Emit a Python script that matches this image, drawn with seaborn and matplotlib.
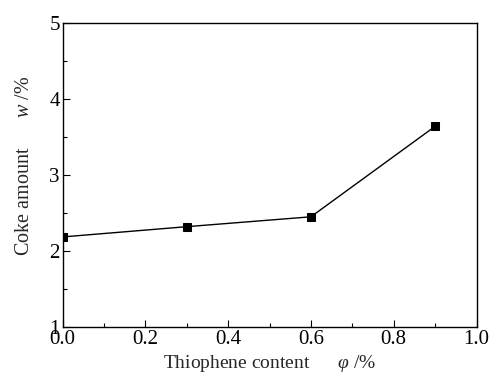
import matplotlib
matplotlib.use("Agg")
import matplotlib.pyplot as plt
import seaborn as sns
import pandas as pd

thiophene = [0.0, 0.3, 0.6, 0.9]
coke = [2.185, 2.32, 2.45, 3.64]

sns.set_theme(style="ticks")
plt.rcParams["font.family"] = ["Liberation Serif", "DejaVu Serif"]
plt.rcParams["mathtext.fontset"] = "custom"
plt.rcParams["mathtext.it"] = "Liberation Serif:italic"
plt.rcParams["mathtext.rm"] = "Liberation Serif"

df = pd.DataFrame({"x": thiophene, "y": coke})

fig = plt.figure(figsize=(4.9, 3.83), dpi=100)
ax = fig.add_axes([62.5/490, 1 - 327/383, (476.5-62.5)/490, (327-23)/383])
sns.lineplot(data=df, x="x", y="y", ax=ax, color="black", linewidth=1.0,
             marker="s", markersize=6, markeredgecolor="black", clip_on=True)

ax.set_xlim(0, 1.0)
ax.set_ylim(1, 5)
ax.set_xticks([0.0, 0.2, 0.4, 0.6, 0.8, 1.0])
ax.set_xticklabels(["0.0", "0.2", "0.4", "0.6", "0.8", "1.0"])
ax.set_yticks([1, 2, 3, 4, 5])
ax.set_xticks([0.1, 0.3, 0.5, 0.7, 0.9], minor=True)
ax.set_yticks([1.5, 2.5, 3.5, 4.5], minor=True)
ax.tick_params(which="both", direction="in", colors="black", labelsize=15, width=0.8)
ax.tick_params(which="major", length=5, pad=2)
ax.tick_params(which="minor", length=3)
for s in ax.spines.values():
    s.set_color("black")
    s.set_linewidth(1.0)

ax.set_xlabel(r"Thiophene content      $\it{\varphi}$ /%", fontsize=14, labelpad=3)
ax.set_ylabel(r"Coke amount      $\it{w}$ /%", fontsize=14.5)
ax.yaxis.set_label_coords(-0.068, 0.53)

fig.savefig("out.png", dpi=100)
